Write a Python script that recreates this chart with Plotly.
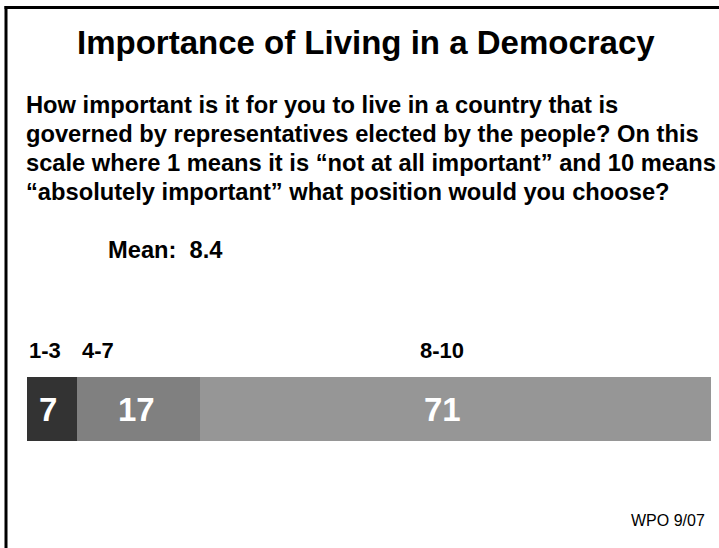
import plotly.graph_objects as go

# ---- data ----
categories = ["1-3", "4-7", "8-10"]
values = [7, 17, 71]
colors = ["#333333", "#808080", "#969696"]
title_text = "Importance of Living in a Democracy"
question_lines = [
    "How important is it for you to live in a country that is",
    "governed by representatives elected by the people? On this",
    "scale where 1 means it is \u201cnot at all important\u201d and 10 means",
    "\u201cabsolutely important\u201d what position would you choose?",
]
mean_text = "Mean:  8.4"
source_text = "WPO 9/07"

W, H = 719, 548
L, R, T, B = 27, 8, 377, 107
PW, PH = W - L - R, H - T - B


def px(x):
    return (x - L) / PW


def py(y):
    return (H - B - y) / PH


FONT = "Liberation Sans, Arial, sans-serif"

fig = go.Figure()
start = 0
for cat, v, c in zip(categories, values, colors):
    fig.add_trace(go.Bar(
        x=[v], y=["row"], orientation="h", base=[start],
        marker=dict(color=c, line=dict(width=0)),
        hoverinfo="skip", showlegend=False, width=1,
    ))
    start += v

annotations = []
num_shift = [-4, -2, -13]
cum = 0
for i, (cat, v) in enumerate(zip(categories, values)):
    # category labels above the bar
    if i < 2:
        ax, anchor, shift = cum, "left", (0 if i == 0 else 3)
    else:
        ax, anchor, shift = cum + v / 2, "center", -13
    annotations.append(dict(
        x=ax, y=py(350), xref="x", yref="paper", text=cat, showarrow=False,
        xanchor=anchor, yanchor="middle", xshift=shift,
        font=dict(family=FONT, size=22, color="black", weight="bold"),
    ))
    # value labels inside the bar
    annotations.append(dict(
        x=cum + v / 2, y=0.5, xref="x", yref="paper", text=str(v),
        showarrow=False, xanchor="center", yanchor="middle", xshift=num_shift[i],
        font=dict(family=FONT, size=33, color="white", weight="bold"),
    ))
    cum += v

annotations.append(dict(
    x=px(366), y=py(42), xref="paper", yref="paper", text=title_text,
    showarrow=False, xanchor="center", yanchor="middle",
    font=dict(family=FONT, size=33, color="black", weight="bold"),
))
for i, line in enumerate(question_lines):
    annotations.append(dict(
        x=px(24), y=py(105 + 29 * i), xref="paper", yref="paper", text=line,
        showarrow=False, xanchor="left", yanchor="middle",
        font=dict(family=FONT, size=23.7, color="black", weight="bold"),
    ))
annotations.append(dict(
    x=px(106), y=py(250), xref="paper", yref="paper", text=mean_text,
    showarrow=False, xanchor="left", yanchor="middle",
    font=dict(family=FONT, size=23.7, color="black", weight="bold"),
))
annotations.append(dict(
    x=px(707), y=py(520), xref="paper", yref="paper", text=source_text,
    showarrow=False, xanchor="right", yanchor="middle",
    font=dict(family=FONT, size=16, color="black"),
))

shapes = [
    dict(type="line", xref="paper", yref="paper", x0=px(6), x1=px(6),
         y0=py(H + 5), y1=py(6), line=dict(color="black", width=3)),
    dict(type="line", xref="paper", yref="paper", x0=px(4.5), x1=px(W + 5),
         y0=py(7.5), y1=py(7.5), line=dict(color="black", width=3)),
]

fig.update_layout(
    width=W, height=H, margin=dict(l=L, r=R, t=T, b=B),
    paper_bgcolor="white", plot_bgcolor="white",
    barmode="overlay", bargap=0,
    xaxis=dict(range=[0, sum(values)], visible=False, fixedrange=True),
    yaxis=dict(visible=False, fixedrange=True, range=[-0.5, 0.5]),
    annotations=annotations, shapes=shapes,
)

fig.write_html(
    "out.html",
    config=dict(displayModeBar=False),
    post_script="document.body.style.margin='0';document.body.style.overflow='hidden';",
)
